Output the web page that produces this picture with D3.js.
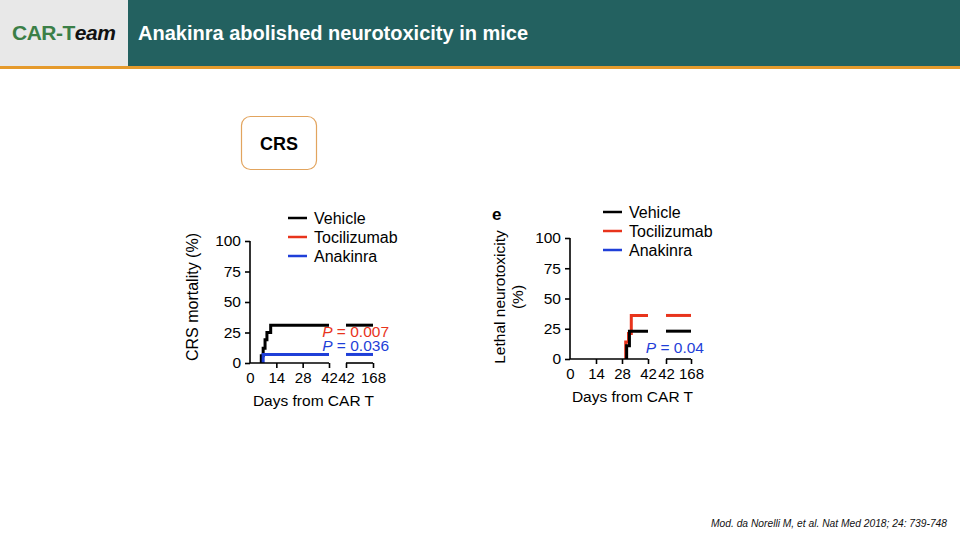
<!DOCTYPE html>
<html>
<head>
<meta charset="utf-8">
<script src="https://cdn.jsdelivr.net/npm/d3@7"></script>
<style>
  body { margin: 0; background: #fff; }
  svg { display: block; font-family: "Liberation Sans", Arial, sans-serif; }
  .axis path, .axis line { stroke: #000; stroke-width: 1.6; }
  .axis text { font-size: 15.5px; fill: #000; font-family: "Liberation Sans", Arial, sans-serif; }
  .xaxis text { font-size: 15px; }
</style>
</head>
<body>
<div id="chart"></div>
<script>
// data
var legendNames = ["Vehicle", "Tocilizumab", "Anakinra"];
var legendColors = ["#000000", "#e8341c", "#1f3fd8"];
var yTicks = [0, 25, 50, 75, 100];
var xTicksA = [0, 14, 28, 42];
var xTicksB = [42, 168];

// CRS mortality (%) — [day, percent]
var crsVehicle = [[6, 0], [6, 6], [7, 12], [8, 19], [9, 25], [11, 31], [42, 31]];
var crsToci = [];
var crsAnak = [[7, 0], [7, 7], [42, 7]];

// lethal neurotoxicity (%)
var neuroVehicle = [[30.5, 0], [30.5, 11], [32, 23], [42, 23]];
var neuroToci = [[30, 0], [30, 14], [31.5, 21], [33, 36], [42, 36]];
var neuroAnak = [];

var pLeft = [{ txt: "0.007", color: "#e8341c" }, { txt: "0.036", color: "#1f3fd8" }];
var pRight = [{ txt: "0.04", color: "#1f3fd8" }];

var svgWidth = 960, svgHeight = 540;

var svg = d3.select("#chart").append("svg")
  .attr("width", svgWidth)
  .attr("height", svgHeight);

// header
svg.append("rect").attr("x", 0).attr("y", 0).attr("width", 128).attr("height", 67).attr("fill", "#e8e8e8");
svg.append("rect").attr("x", 128).attr("y", 0).attr("width", 832).attr("height", 67).attr("fill", "#236160");
svg.append("rect").attr("x", 0).attr("y", 66).attr("width", 960).attr("height", 3).attr("fill", "#e59a2c");

var logo = svg.append("text").attr("x", 12).attr("y", 40)
  .attr("font-size", 21).attr("font-weight", "bold").attr("letter-spacing", -0.5);
logo.append("tspan").attr("fill", "#3b7f47").text("CAR-T");
logo.append("tspan").attr("fill", "#111").attr("font-style", "italic").text("eam");

svg.append("text").attr("x", 138).attr("y", 40)
  .attr("font-size", 20).attr("font-weight", "bold").attr("fill", "#fff")
  .text("Anakinra abolished neurotoxicity in mice");

// CRS box
svg.append("rect").attr("x", 241.5).attr("y", 116.5).attr("width", 75).attr("height", 53)
  .attr("rx", 9).attr("fill", "#fff").attr("stroke", "#e2a45e").attr("stroke-width", 1.2);
svg.append("text").attr("x", 279).attr("y", 149.5).attr("text-anchor", "middle")
  .attr("font-size", 18).attr("font-weight", "bold").text("CRS");

// footer
svg.append("text").attr("x", 711).attr("y", 527)
  .attr("font-size", 10).attr("font-style", "italic").attr("fill", "#111")
  .attr("textLength", 236).attr("lengthAdjust", "spacingAndGlyphs")
  .text("Mod. da Norelli M, et al. Nat Med 2018; 24: 739-748");

function drawPanel(cfg) {
  var g = svg.append("g");

  var y = d3.scaleLinear().domain([0, 100]).range([cfg.y0, cfg.y100]);
  var xA = d3.scaleLinear().domain([0, 42]).range([cfg.xa0, cfg.xa1]);
  var xB = d3.scaleLinear().domain([42, 168]).range([cfg.xb0, cfg.xb1]);

  var series = [
    { data: cfg.toci, color: legendColors[1] },
    { data: cfg.vehicle, color: legendColors[0] },
    { data: cfg.anak, color: legendColors[2] }
  ];

  // step curves, first segment then the part after the axis break
  var lineA = d3.line().x(d => xA(d[0])).y(d => y(d[1])).curve(d3.curveStepAfter);
  series.forEach(function(s) {
    if (!s.data.length) return;
    g.append("path").datum(s.data)
      .attr("d", lineA)
      .attr("fill", "none").attr("stroke", s.color).attr("stroke-width", 3);
    var last = s.data[s.data.length - 1][1];
    g.append("line")
      .attr("x1", xB(42)).attr("x2", xB(168))
      .attr("y1", y(last)).attr("y2", y(last))
      .attr("stroke", s.color).attr("stroke-width", 3);
  });

  // axes
  g.append("g").attr("class", "axis")
    .attr("transform", `translate(${cfg.xa0},0)`)
    .call(d3.axisLeft(y).tickValues(yTicks).tickSize(5).tickPadding(4))
    .call(a => a.select(".domain").attr("d", `M0,${cfg.y0}V${cfg.y100}`));

  g.append("g").attr("class", "axis xaxis")
    .attr("transform", `translate(0,${cfg.y0})`)
    .call(d3.axisBottom(xA).tickValues(xTicksA).tickSize(5).tickPadding(4))
    .call(a => a.select(".domain").attr("d", `M${cfg.xa0},0H${cfg.xa1}`))
    .call(a => a.selectAll(".tick").filter(d => d === 0).select("line").remove());

  g.append("g").attr("class", "axis xaxis")
    .attr("transform", `translate(0,${cfg.y0})`)
    .call(d3.axisBottom(xB).tickValues(xTicksB).tickSize(5).tickPadding(4))
    .call(a => a.select(".domain").attr("d", `M${cfg.xb0},0H${cfg.xb1}`));

  // axis titles
  g.append("text")
    .attr("x", (cfg.xa0 + cfg.xb1) / 2 + 2).attr("y", cfg.y0 + 43)
    .attr("text-anchor", "middle").attr("font-size", 15.5)
    .text("Days from CAR T");

  cfg.yTitle.forEach(function(t, i) {
    g.append("text")
      .attr("transform", `translate(${cfg.yTitleX + i * 18},${cfg.yTitleY}) rotate(-90)`)
      .attr("text-anchor", "middle").attr("font-size", cfg.yTitleSize)
      .text(t);
  });

  // legend
  legendNames.forEach(function(n, i) {
    var ly = cfg.legY + i * cfg.legGap;
    g.append("line")
      .attr("x1", cfg.legX).attr("x2", cfg.legX + 19)
      .attr("y1", ly).attr("y2", ly)
      .attr("stroke", legendColors[i]).attr("stroke-width", 2.5);
    g.append("text").attr("x", cfg.legX + 26).attr("y", ly + 5.5)
      .attr("font-size", 16).text(n);
  });

  // p values
  cfg.pvals.forEach(function(p, i) {
    var t = g.append("text")
      .attr("x", cfg.pX).attr("y", cfg.pY + i * 13.5)
      .attr("text-anchor", "end").attr("font-size", 15.5).attr("fill", p.color);
    t.append("tspan").attr("font-style", "italic").text("P");
    t.append("tspan").text(" = " + p.txt);
  });

  return g;
}

drawPanel({
  y0: 363, y100: 241,
  xa0: 250, xa1: 329, xb0: 346, xb1: 373,
  vehicle: crsVehicle, toci: crsToci, anak: crsAnak,
  yTitle: ["CRS mortality (%)"], yTitleX: 198, yTitleY: 297, yTitleSize: 16,
  legX: 288, legY: 218, legGap: 19,
  pvals: pLeft, pX: 389, pY: 337
});

drawPanel({
  y0: 359, y100: 238,
  xa0: 570, xa1: 648, xb0: 666, xb1: 691,
  vehicle: neuroVehicle, toci: neuroToci, anak: neuroAnak,
  yTitle: ["Lethal neurotoxicity", "(%)"], yTitleX: 505, yTitleY: 297, yTitleSize: 15.5,
  legX: 603, legY: 212, legGap: 19,
  pvals: pRight, pX: 704, pY: 353
});

svg.append("text").attr("x", 492).attr("y", 220)
  .attr("font-size", 17).attr("font-weight", "bold").text("e");
</script>
</body>
</html>
